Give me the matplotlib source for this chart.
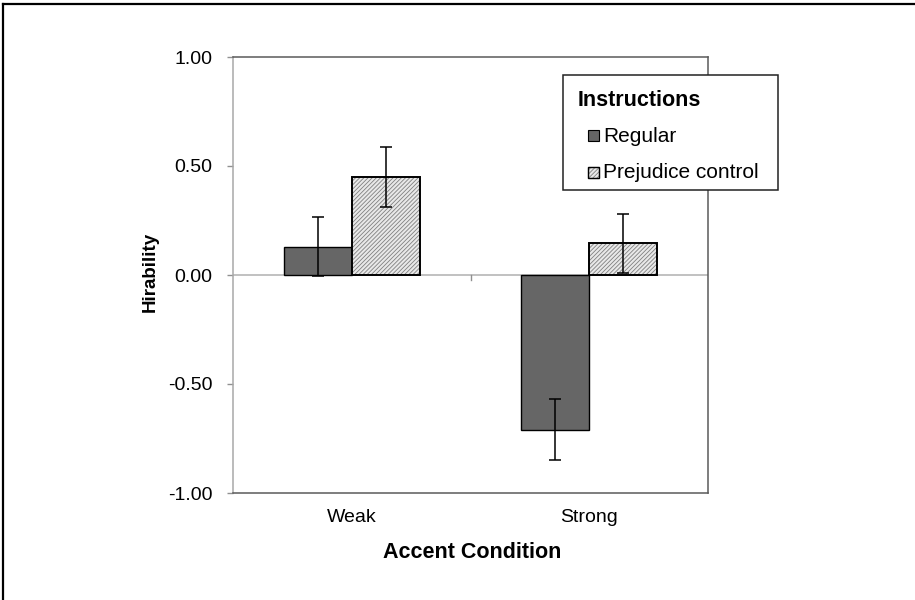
import matplotlib
matplotlib.use("Agg")
import matplotlib.pyplot as plt
from matplotlib.patches import Rectangle
from matplotlib.lines import Line2D
import numpy as np

plt.rcParams['font.family'] = ['Liberation Sans', 'DejaVu Sans']
plt.rcParams['hatch.linewidth'] = 0.6

# ---- data ----
categories = ["Weak", "Strong"]
series_names = ["Regular", "Prejudice control"]
regular_means = [0.13, -0.71]
regular_err = [0.135, 0.14]
prejudice_means = [0.45, 0.145]
prejudice_err = [0.137, 0.135]
y_ticks = [-1.0, -0.5, 0.0, 0.5, 1.0]
legend_title = "Instructions"
x_label = "Accent Condition"
y_label = "Hirability"

# ---- style ----
W, H = 915, 600
regular_color = "#666666"
prej_face = "#e8e8e8"
prej_hatch_color = "#808080"
hatch_pat = "////////"

fig = plt.figure(figsize=(W / 100, H / 100), dpi=100)

def fx(px):
    return px / W

def fy(py):
    return 1 - py / H

ax = fig.add_axes([fx(233), fy(493), fx(708) - fx(233), fy(57) - fy(493)])

x = np.arange(len(categories))
bw = 0.286

# Regular bars
ax.bar(x - bw / 2, regular_means, bw, color=regular_color, edgecolor="black",
       linewidth=1.0, zorder=3)
# Prejudice control bars: hatch layer then outline
ax.bar(x + bw / 2, prejudice_means, bw, color=prej_face, edgecolor=prej_hatch_color,
       hatch=hatch_pat, linewidth=0, zorder=3)
ax.bar(x + bw / 2, prejudice_means, bw, fill=False, edgecolor="black",
       linewidth=1.4, zorder=4)

# error bars
ax.errorbar(x - bw / 2, regular_means, yerr=regular_err, fmt="none", ecolor="black",
            elinewidth=1.1, capsize=4.3, capthick=1.1, zorder=5)
ax.errorbar(x + bw / 2, prejudice_means, yerr=prejudice_err, fmt="none", ecolor="black",
            elinewidth=1.1, capsize=4.3, capthick=1.1, zorder=5)

# zero (category) axis line with tick mark between categories
ax.axhline(0, color="#b0b0b0", linewidth=1.1, zorder=2)
for xb in [0.5]:
    ax.plot([xb, xb], [0, -0.025], color="#909090", linewidth=1.0, zorder=2,
            clip_on=False)

ax.set_xlim(-0.5, len(categories) - 0.5)
ax.set_ylim(-1.0, 1.0)
ax.set_yticks(y_ticks)
ax.set_yticklabels([f"{v:.2f}" for v in y_ticks])
ax.set_xticks(x)
ax.set_xticklabels(categories)

ax.tick_params(axis="y", direction="out", length=4.3, width=1.0, color="#909090",
               pad=10.5, labelsize=14)
ax.tick_params(axis="x", length=0, pad=11.5, labelsize=14)

ax.spines["left"].set_color("#a8a8a8")
for s in ["top", "right", "bottom"]:
    ax.spines[s].set_color("#5a5a5a")
for s in ax.spines.values():
    s.set_linewidth(1.1)

# axis titles
fig.text(fx(472), fy(558), x_label, fontsize=15.5, fontweight="bold",
         ha="center", va="baseline")
fig.text(fx(150), fy(272), y_label, fontsize=13.5, fontweight="bold",
         rotation=90, ha="center", va="center")

# legend (drawn manually to match layout)
fig.patches.append(Rectangle((fx(563), fy(190)), fx(778) - fx(563), fy(75) - fy(190),
                             transform=fig.transFigure, facecolor="white",
                             edgecolor="#222222", linewidth=1.1, zorder=10))
fig.text(fx(578), fy(106), legend_title, fontsize=15.5, fontweight="bold",
         ha="left", va="baseline", zorder=11)
entries = [
    (series_names[0], dict(facecolor=regular_color, edgecolor="black"), 135),
    (series_names[1], dict(facecolor=prej_face, edgecolor=prej_hatch_color, hatch=hatch_pat), 172),
]
for label, style, yc in entries:
    fig.patches.append(Rectangle((fx(588), fy(yc + 5.5)), fx(11), 11 / H,
                                 transform=fig.transFigure, linewidth=0.8,
                                 zorder=11, **style))
    if "hatch" in style:
        fig.patches.append(Rectangle((fx(588), fy(yc + 5.5)), fx(11), 11 / H,
                                     transform=fig.transFigure, fill=False,
                                     edgecolor="black", linewidth=1.0, zorder=12))
    fig.text(fx(603), fy(yc + 6.5), label, fontsize=15, ha="left", va="baseline",
             zorder=11)

# figure border (top and left)
fig.lines.append(Line2D([fx(3), 1.0], [fy(4), fy(4)], transform=fig.transFigure,
                        color="black", linewidth=1.6))
fig.lines.append(Line2D([fx(3), fx(3)], [fy(4), 0.0], transform=fig.transFigure,
                        color="black", linewidth=1.6))

fig.savefig("out.png", dpi=100)
